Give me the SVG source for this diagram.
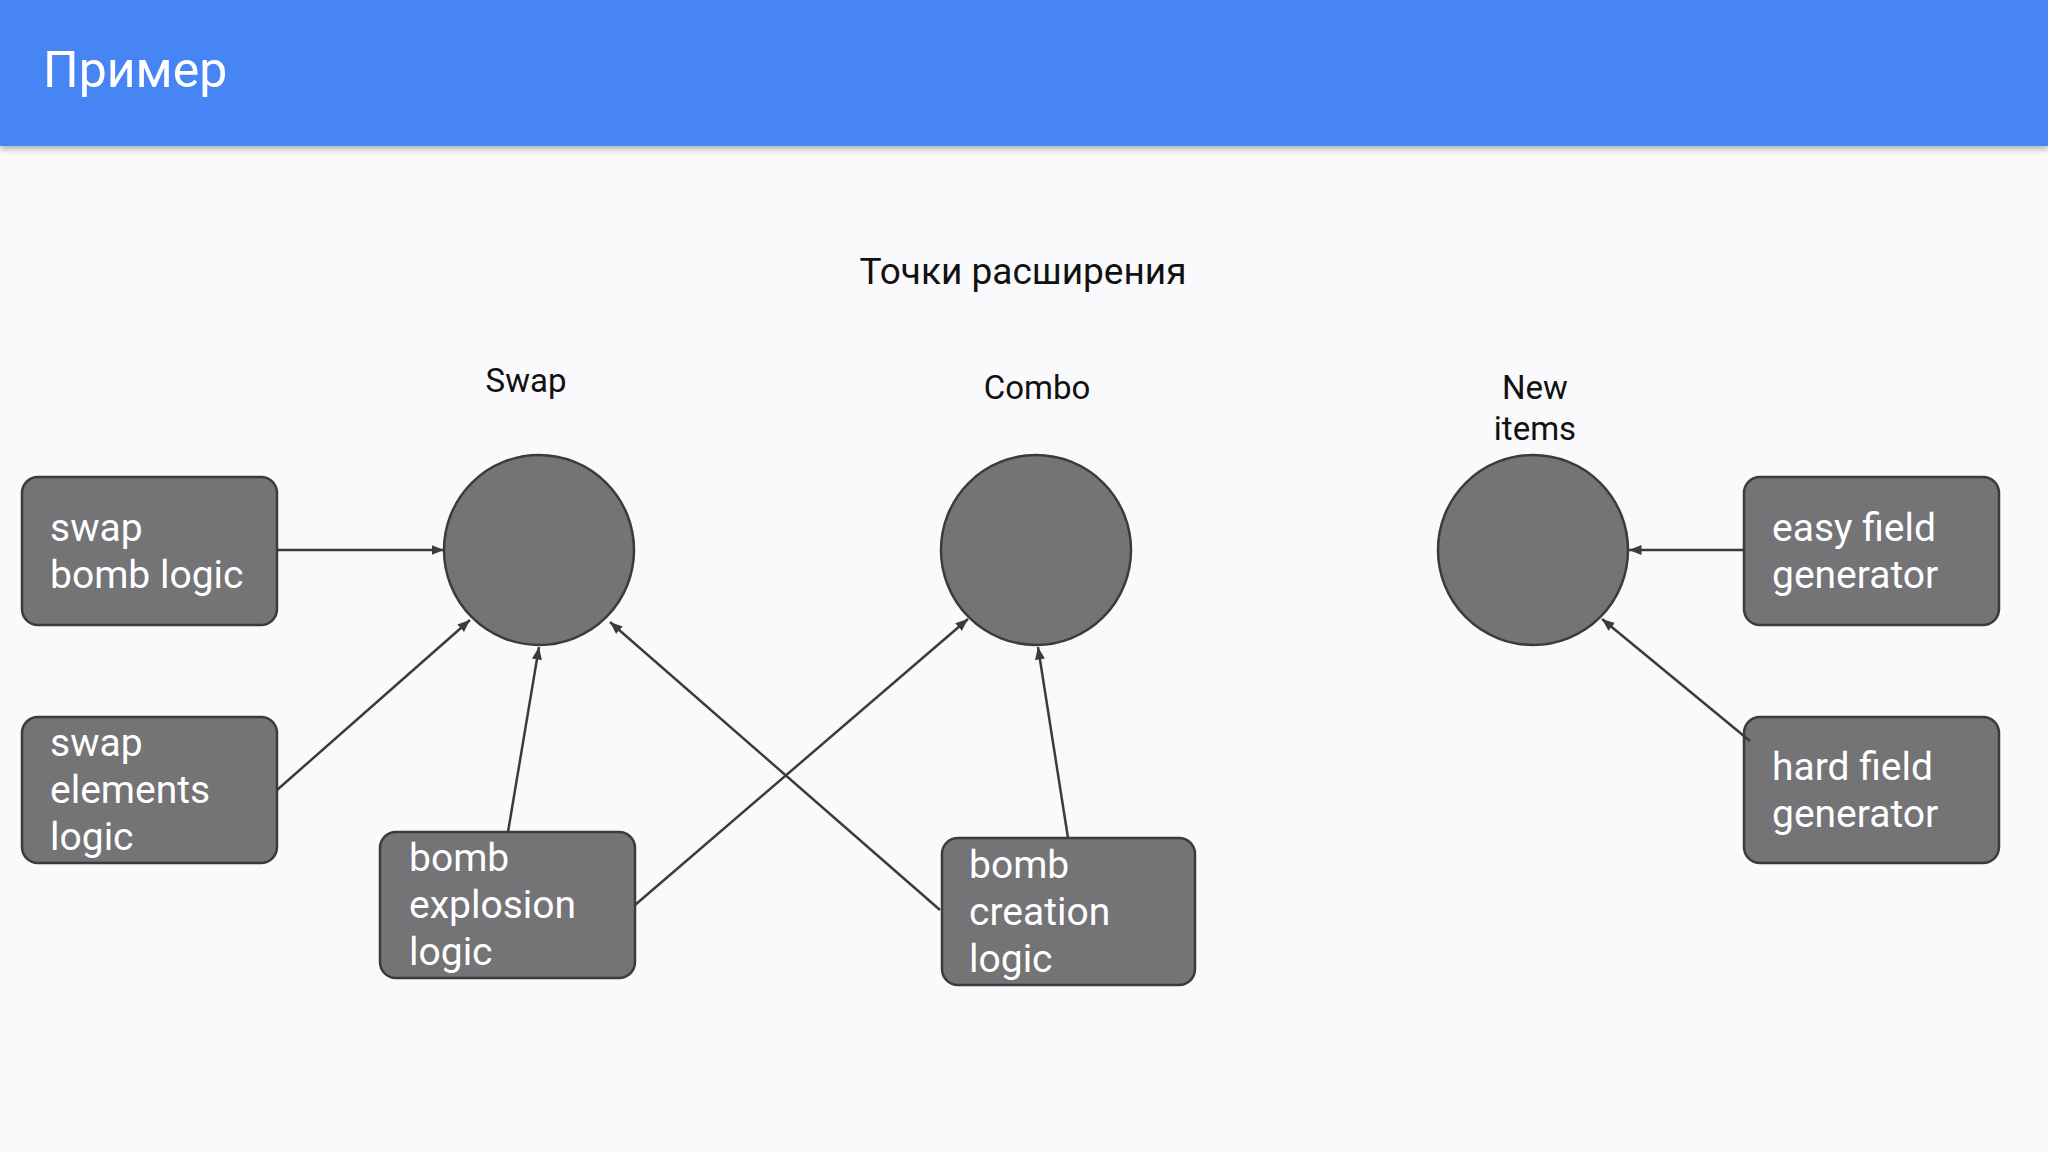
<svg xmlns="http://www.w3.org/2000/svg" width="2048" height="1152" viewBox="0 0 2048 1152">
<style>
.box{fill:#747376;stroke:#3b3b3d;stroke-width:2.5}
.bt{font-family:Roboto,"Liberation Sans",sans-serif;font-size:39px;fill:#fff}
.lb{font-family:Roboto,"Liberation Sans",sans-serif;font-size:33px;fill:#111;text-anchor:middle}
.c{stroke:#3b3b3d;stroke-width:2.5;fill:none;marker-end:url(#a)}
</style>
<defs>
<marker id="a" viewBox="0 0 10 10" refX="10" refY="5" markerWidth="5" markerHeight="5" orient="auto" markerUnits="strokeWidth"><path d="M0,1 L10,5 L0,9 z" fill="#3b3b3d"/></marker>
<filter id="sh" x="0" y="0" width="1" height="1.2"><feDropShadow dx="0" dy="3" stdDeviation="3" flood-opacity="0.3"/></filter>
</defs>
<rect width="2048" height="1152" fill="#fafafc"/>
<rect width="2048" height="146" fill="#4785f4" filter="url(#sh)"/>
<text x="43" y="87" font-family="Roboto,'Liberation Sans',sans-serif" font-size="50" fill="#fff">Пример</text>
<text x="1023" y="284" font-family="Roboto,'Liberation Sans',sans-serif" font-size="37" fill="#111" text-anchor="middle">Точки расширения</text>
<g id="swap"><circle cx="539" cy="550" r="95" class="box"/><text class="lb" x="526" y="392">Swap</text></g>
<g id="combo"><circle cx="1036" cy="550" r="95" class="box"/><text class="lb" x="1037" y="399">Combo</text></g>
<g id="newitems"><circle cx="1533" cy="550" r="95" class="box"/><text class="lb" x="1535" y="399">New</text><text class="lb" x="1535" y="440">items</text></g>
<g id="swapbomb"><rect x="22" y="477" width="255" height="148" rx="16" class="box"/><text class="bt" x="50" y="541">swap</text><text class="bt" x="50" y="588">bomb logic</text></g>
<g id="swapelements"><rect x="22" y="717" width="255" height="146" rx="16" class="box"/><text class="bt" x="50" y="756">swap</text><text class="bt" x="50" y="803">elements</text><text class="bt" x="50" y="850">logic</text></g>
<g id="bombexplosion"><rect x="380" y="832" width="255" height="146" rx="16" class="box"/><text class="bt" x="409" y="871">bomb</text><text class="bt" x="409" y="918">explosion</text><text class="bt" x="409" y="965">logic</text></g>
<g id="bombcreation"><rect x="942" y="838" width="253" height="147" rx="16" class="box"/><text class="bt" x="969" y="878">bomb</text><text class="bt" x="969" y="925">creation</text><text class="bt" x="969" y="972">logic</text></g>
<g id="easy"><rect x="1744" y="477" width="255" height="148" rx="16" class="box"/><text class="bt" x="1772" y="541">easy field</text><text class="bt" x="1772" y="588">generator</text></g>
<g id="hard"><rect x="1744" y="717" width="255" height="146" rx="16" class="box"/><text class="bt" x="1772" y="780">hard field</text><text class="bt" x="1772" y="827">generator</text></g>
<g id="connectors">
<path class="c" d="M277,550 L444,550"/>
<path class="c" d="M277,790 L470,620"/>
<path class="c" d="M508,832 L539,647"/>
<path class="c" d="M940,910 L610,622"/>
<path class="c" d="M635,905 L968,619"/>
<path class="c" d="M1068,838 L1038,647"/>
<path class="c" d="M1744,550 L1629,550"/>
<path class="c" d="M1750,741 L1602,619"/>
</g>
</svg>
